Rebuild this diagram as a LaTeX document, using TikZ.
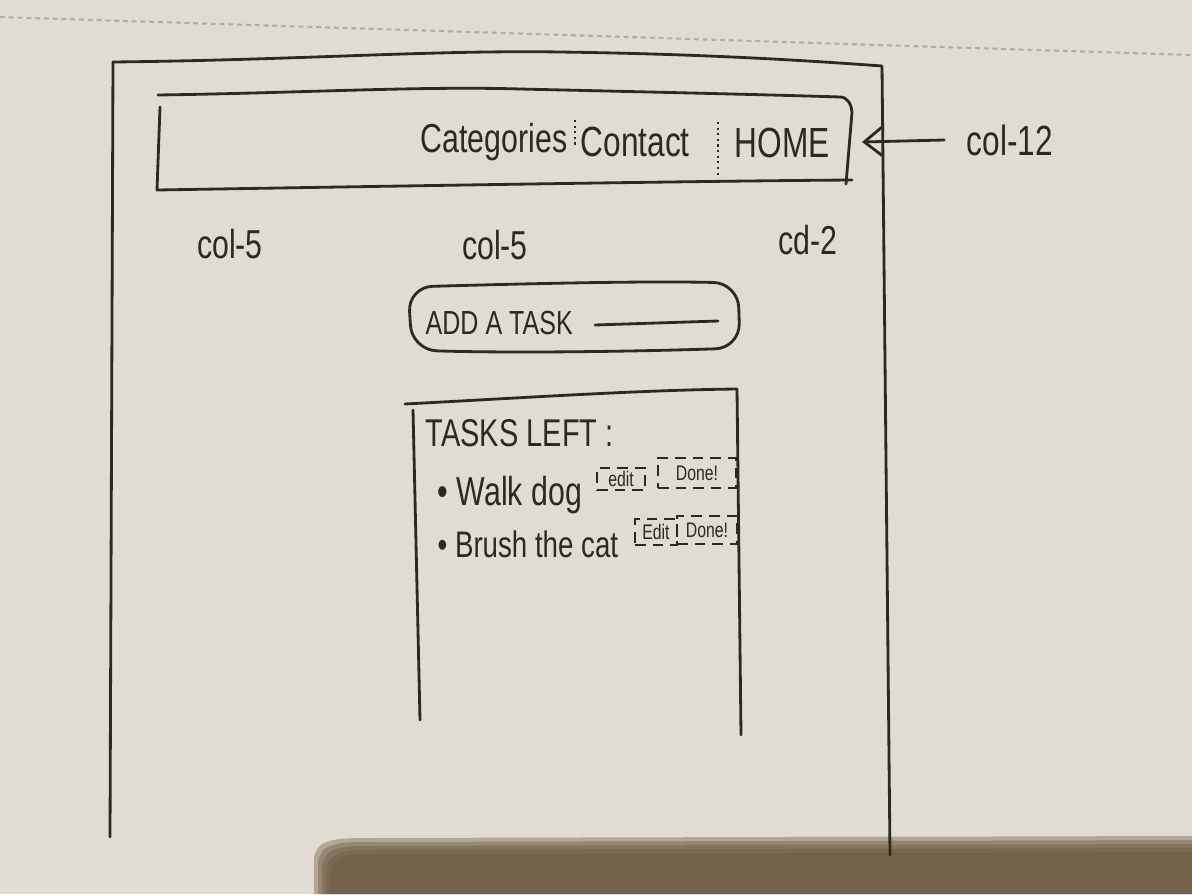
\documentclass[tikz,border=0pt]{standalone}
\usepackage{fontspec}
\newfontfamily\handFont[FakeStretch=0.75]{Liberation Sans}
\usetikzlibrary{arrows.meta}

\begin{document}
\begin{tikzpicture}[x=0.1mm, y=-0.1mm, font=\handFont,
    pen/.style={draw=inkColour, line width=0.8pt, line cap=round, line join=round},
    button/.style={draw=inkColour, densely dashed, line width=0.5pt, inner sep=1pt,
        font=\handFont\fontsize{6}{7}\selectfont, text=inkColour},
    label/.style={text=inkColour, inner sep=0pt}]
    % Define colours
    \definecolor{paperColour}{HTML}{E1DCD2}
    \definecolor{inkColour}{HTML}{2E2722}
    \definecolor{perfColour}{HTML}{B3AEA5}
    \definecolor{shadowColour}{HTML}{6B5840}

    % Draw paper and fix the size
    \fill[paperColour] (0,0) rectangle (1192,894);
    \useasboundingbox (0,0) rectangle (1192,894);

    % Draw perforation line
    \draw[perfColour, line width=0.6pt, dash pattern=on 1.4pt off 1.1pt] (0,17) -- (1192,55);

    % Draw shadow, soft edge first
    \foreach \s in {16,12,8,4,0}
        \fill[shadowColour, opacity=0.4] (330-\s,894) -- (330-\s,874-\s)
            .. controls (333-\s,858-\s) and (343-\s,854-\s) .. (365,854-\s) -- (1192,852-\s) -- (1192,894) -- cycle;

    % Draw page frame
    \draw[pen] (113,62) .. controls (300,60) and (430,50) .. (560,52) .. controls (700,54) and (800,60) .. (882,66) -- (890,855);
    \draw[pen] (113,62) -- (110,837);

    % Draw header bar
    \draw[pen] (158,95) .. controls (300,93) and (420,86) .. (520,89) .. controls (650,92) and (780,95) .. (840,97)
        to[out=0,in=95] (852,112) -- (846,184);
    \draw[pen] (160,107) -- (157,190) .. controls (400,186) and (700,181) .. (852,180);
    \draw[inkColour, line width=0.6pt, densely dotted] (575,120) -- (575,145);
    \draw[inkColour, line width=0.6pt, densely dotted] (718,122) -- (718,178);
    \node[label, anchor=west, font=\handFont\fontsize{11.5}{14}\selectfont] (categories) at (420,142) {Categories};
    \node[label, anchor=west, font=\handFont\fontsize{12}{14}\selectfont] (contact) at (580,142) {Contact};
    \node[label, anchor=west, font=\handFont\fontsize{12}{14}\selectfont] (home) at (734,143) {HOME};

    % Column label for the header
    \coordinate (headerEast) at (862,142);
    \node[label, font=\handFont\fontsize{12}{14}\selectfont] (col12) at (1010,140) {col-12};
    \draw[pen, ->, >={Straight Barb[length=5pt,width=8pt]}] (col12.west) ++(-22,0) -- (headerEast);

    % Column labels
    \node[label, font=\handFont\fontsize{11.5}{14}\selectfont] (colLeft) at (230,244) {col-5};
    \node[label, font=\handFont\fontsize{11.5}{14}\selectfont] (colMid) at (495,245) {col-5};
    \node[label, font=\handFont\fontsize{11.5}{14}\selectfont] (colRight) at (808,240) {cd-2};

    % Draw add task box
    \draw[pen, rounded corners=7pt] (408,287) .. controls (550,283) and (650,281) .. (738,283) -- (740,348)
        .. controls (620,352) and (500,353) .. (412,350) -- cycle;
    \node[label, anchor=west, font=\handFont\fontsize{9.5}{12}\selectfont] (addTask) at (425,323) {ADD A TASK};
    \coordinate (inputStart) at (595,325);
    \coordinate (inputEnd) at (718,321);
    \draw[pen] (inputStart) -- (inputEnd);

    % Draw tasks left box
    \draw[pen] (405,404) .. controls (520,398) and (640,390) .. (737,389) -- (741,735);
    \draw[pen] (413,410) -- (420,720);
    \node[label, anchor=west, font=\handFont\fontsize{11}{13}\selectfont] (tasksLeft) at (425,433) {TASKS LEFT :};

    % Task items
    \node[label, anchor=west, font=\handFont\fontsize{11.5}{14}\selectfont] (taskOne) at (437,495) {• Walk dog};
    \node[button, minimum width=4.8mm, minimum height=2mm] (editOne) at (621,479) {edit};
    \node[button, minimum width=7.8mm, minimum height=3mm] (doneOne) at (697,473) {Done!};
    \node[label, anchor=west, font=\handFont\fontsize{10.5}{13}\selectfont] (taskTwo) at (437,544) {• Brush the cat};
    \node[button, minimum width=4.2mm, minimum height=2.6mm] (editTwo) at (656,532) {Edit};
    \node[button, minimum width=6.0mm, minimum height=2.8mm] (doneTwo) at (707,530) {Done!};

\end{tikzpicture}
\end{document}
